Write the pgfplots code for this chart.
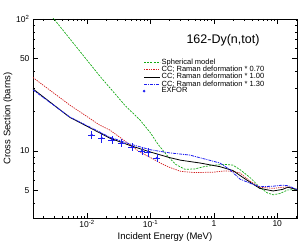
\documentclass[border=0pt]{standalone}
\usepackage{pgfplots}
\pgfplotsset{compat=1.18}
\usepackage{fontspec}
\setmainfont{Liberation Sans}
\definecolor{cgreen}{RGB}{20,170,20}
\definecolor{cred}{RGB}{210,30,30}
\definecolor{cblue}{RGB}{30,30,240}
\begin{document}
\begin{tikzpicture}[x=1pt,y=1pt]
\useasboundingbox (-33,-26) rectangle (275,218);
\begin{axis}[
 at={(0,0)}, anchor=south west,
 width=264pt, height=199pt, scale only axis,
 xmode=log, ymode=log,
 xmin=1.4e-3, xmax=20.5, ymin=3.1, ymax=100,
 xtick={0.01,0.1,1,10}, xticklabels={10\textsuperscript{-2},10\textsuperscript{-1},1,10},
 ytick={5,10,50,100}, yticklabels={5,10,50,10\textsuperscript{2}},
 minor xtick={2e-3,3e-3,4e-3,5e-3,6e-3,7e-3,8e-3,9e-3,0.02,0.03,0.04,0.05,0.06,0.07,0.08,0.09,0.2,0.3,0.4,0.5,0.6,0.7,0.8,0.9,2,3,4,5,6,7,8,9,20},
 minor ytick={4,6,7,8,9,20,30,40,60,70,80,90},
 tick align=inside, major tick length=5pt, minor tick length=2.5pt,
 tick style={black, line width=0.5pt},
 axis line style={line width=0.8pt},
 tick label style={font=\fontsize{8.5}{10}\selectfont},
 xticklabel style={yshift=1pt},
 legend style={draw=none, fill=none, at={(0.415,0.805)}, anchor=north west,
   font=\fontsize{7.5}{8}\selectfont, inner sep=0pt, row sep=-2.2pt,
   nodes={inner sep=1.2pt}},
 legend cell align=left,
 legend image code/.code={\draw[#1] (0pt,0pt) -- (16pt,0pt);},
]
\addplot[cgreen, line width=0.7pt, dash pattern=on 2pt off 1.2pt] coordinates {
(1.4e-3,150) (3.0e-3,100) (0.0158,37) (0.04,22) (0.068,17.2) (0.1,13.7) (0.13,11.3) (0.18,9.3) (0.25,7.9) (0.35,7.25) (0.5,7.3) (0.7,7.6) (1.0,7.8) (1.5,7.9) (2.0,7.8) (2.6,7.2) (3.7,6.3) (5.3,5.3) (7,4.8) (8.6,4.65) (11,4.75) (14.7,5.06) (20.5,5.1)};
\addlegendentry{Spherical model}
\addplot[cred, line width=0.7pt, dash pattern=on 1.3pt off 1pt] coordinates {
(1.4e-3,36) (5.3e-3,22.3) (0.0158,15.7) (0.0228,14.4) (0.035,12.4) (0.068,9.8) (0.1,8.9) (0.15,8.0) (0.2,7.5) (0.3,7.0) (0.5,6.85) (1.0,6.9) (1.5,7.05) (2.0,7.0) (2.6,6.8) (3.7,5.9) (5.3,5.3) (8.6,5.2) (12,5.3) (14.7,5.33) (20.5,5.1)};
\addlegendentry{CC; Raman deformation * 0.70}
\addplot[black, line width=0.8pt] coordinates {
(1.4e-3,29.5) (5.3e-3,18.0) (0.0158,13.7) (0.0228,12.5) (0.05,10.9) (0.068,10.4) (0.1,9.8) (0.2,8.9) (0.3,8.5) (0.6,8.1) (1.24,7.6) (2.0,7.1) (2.6,6.5) (3.7,5.8) (5.3,5.2) (8.6,4.97) (12,5.1) (14.7,5.3) (20.5,5.1)};
\addlegendentry{CC; Raman deformation * 1.00}
\addplot[cblue, line width=0.8pt, dash pattern=on 3pt off 1pt on 1pt off 1pt] coordinates {
(1.4e-3,29) (5.3e-3,18.1) (0.0158,13.9) (0.0228,12.7) (0.05,11.2) (0.1,10.2) (0.2,9.66) (0.417,9.3) (1.24,8.1) (1.79,7.2) (2.6,6.1) (3.7,5.7) (5.3,5.35) (8.6,5.4) (12,5.5) (14.7,5.45) (20.5,5.1)};
\addlegendentry{CC; Raman deformation * 1.30}
\addplot[cblue, only marks, mark=*, mark size=0.9pt,
  legend image code/.code={\fill[cblue] (0pt,0pt) circle (1.1pt);},
  error bars/.cd, x dir=both, x fixed relative=0.12, y dir=both, y fixed relative=0.075,
  error mark=none, error bar style={cblue, line width=0.45pt}] coordinates {
(0.0118,13.2) (0.017,12.5) (0.0245,12.1) (0.035,11.5) (0.0507,10.7) (0.073,10.0) (0.091,9.8) (0.126,8.85)};
\addlegendentry{EXFOR}
\end{axis}
\node[font=\fontsize{12.5}{14}\selectfont] at (190,178) {162-Dy(n,tot)};
\node[rotate=90, font=\fontsize{9.5}{11}\selectfont] at (-25,99.5) {Cross Section (barns)};
\node[font=\fontsize{9.5}{11}\selectfont] at (132,-19) {Incident Energy (MeV)};
\end{tikzpicture}
\end{document}
